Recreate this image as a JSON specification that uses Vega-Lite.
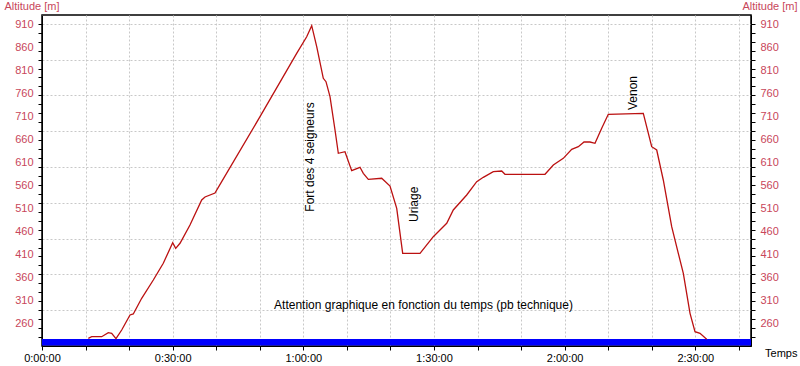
{
  "$schema": "https://vega.github.io/schema/vega-lite/v6.json",
  "width": 709,
  "height": 331,
  "autosize": {"type": "none"},
  "padding": {"left": 42, "top": 15, "right": 49, "bottom": 20},
  "background": "#ffffff",
  "config": {
    "font": "Liberation Sans",
    "view": {"stroke": "#000000", "strokeWidth": 1.5},
    "axis": {"domainColor": "#000000", "tickColor": "#000000", "titleFontWeight": "normal"}
  },
  "datasets": {
    "profile": [
      {"t": 10.63, "alt": 226.7}, {"t": 11.41, "alt": 230.2}, {"t": 13.71, "alt": 230.2},
      {"t": 15.22, "alt": 238.9}, {"t": 16.0, "alt": 237.6}, {"t": 16.99, "alt": 225.9},
      {"t": 18.3, "alt": 244.8}, {"t": 20.21, "alt": 277.4}, {"t": 20.96, "alt": 279.6},
      {"t": 22.89, "alt": 313.7}, {"t": 25.56, "alt": 353.5}, {"t": 27.85, "alt": 389.8},
      {"t": 30.01, "alt": 434.6}, {"t": 30.7, "alt": 422.4}, {"t": 31.69, "alt": 433.3},
      {"t": 33.98, "alt": 473.0}, {"t": 36.67, "alt": 527.4}, {"t": 37.43, "alt": 533.9},
      {"t": 39.72, "alt": 542.6}, {"t": 41.26, "alt": 567.2}, {"t": 50.06, "alt": 708.5},
      {"t": 58.48, "alt": 846.3}, {"t": 60.78, "alt": 882.4}, {"t": 61.93, "alt": 906.3},
      {"t": 63.08, "alt": 860.7}, {"t": 64.59, "alt": 792.0}, {"t": 65.21, "alt": 784.6},
      {"t": 66.13, "alt": 752.0}, {"t": 67.28, "alt": 679.6}, {"t": 68.04, "alt": 628.9},
      {"t": 69.57, "alt": 632.4}, {"t": 71.11, "alt": 591.1}, {"t": 73.02, "alt": 598.5},
      {"t": 73.78, "alt": 585.4}, {"t": 74.93, "alt": 572.4}, {"t": 78.0, "alt": 574.6},
      {"t": 79.91, "alt": 557.8}, {"t": 81.45, "alt": 509.3}, {"t": 82.82, "alt": 411.5},
      {"t": 86.8, "alt": 411.5}, {"t": 89.85, "alt": 447.6}, {"t": 92.93, "alt": 476.7},
      {"t": 94.44, "alt": 505.7}, {"t": 97.52, "alt": 538.3}, {"t": 99.82, "alt": 567.2},
      {"t": 101.33, "alt": 576.7}, {"t": 103.63, "alt": 588.9}, {"t": 105.56, "alt": 590.4},
      {"t": 106.31, "alt": 583.3}, {"t": 115.5, "alt": 583.3}, {"t": 117.41, "alt": 603.5},
      {"t": 119.7, "alt": 618.0}, {"t": 121.63, "alt": 637.6}, {"t": 123.15, "alt": 643.3},
      {"t": 124.46, "alt": 653.5}, {"t": 125.83, "alt": 653.5}, {"t": 126.98, "alt": 650.6},
      {"t": 128.52, "alt": 683.3}, {"t": 130.03, "alt": 713.7}, {"t": 138.07, "alt": 715.9},
      {"t": 140.0, "alt": 643.3}, {"t": 141.15, "alt": 636.1}, {"t": 142.66, "alt": 570.9},
      {"t": 144.59, "alt": 469.4}, {"t": 146.11, "alt": 411.5}, {"t": 147.26, "alt": 368.0},
      {"t": 148.8, "alt": 281.1}, {"t": 149.94, "alt": 241.1}, {"t": 151.09, "alt": 237.6},
      {"t": 152.63, "alt": 224.6}
    ],
    "band": [{"t0": 0, "t1": 162.8, "a0": 211, "a1": 225}],
    "places": [
      {"name": "Fort des 4 seigneurs", "t": 61.54, "alt": 502},
      {"name": "Uriage", "t": 85.42, "alt": 479.6},
      {"name": "Venon", "t": 135.77, "alt": 723}
    ],
    "note": [{"name": "Attention graphique en fonction du temps (pb technique)", "t": 87.6, "alt": 299.1}]
  },
  "resolve": {"axis": {"y": "independent"}},
  "layer": [
    {
      "data": {"name": "band"},
      "mark": {"type": "rect", "color": "#0000ff"},
      "encoding": {
        "x": {"field": "t0", "type": "quantitative", "scale": {"domain": [0, 162.8], "nice": false, "zero": false},
          "axis": {"values": [0,10,20,30,40,50,60,70,80,90,100,110,120,130,140,150,160], "grid": true, "gridDash": [2,2], "gridColor": "#c8c8c8",
            "tickSize": 4, "labelColor": "#000000", "labelFontSize": 11, "labelPadding": 2, "labelFlush": false,
            "labelExpr": "datum.value % 30 == 0 ? floor(datum.value/60) + ':' + (datum.value % 60 < 10 ? '0' : '') + (datum.value % 60) + ':00' : ''",
            "title": "Temps", "titleX": 755, "titleY": 7, "titleAlign": "right", "titleBaseline": "middle", "titleFontSize": 11, "titleColor": "#000000"}},
        "x2": {"field": "t1"},
        "y": {"field": "a0", "type": "quantitative", "scale": {"domain": [210, 929.6], "nice": false, "zero": false},
          "axis": {"orient": "left", "values": [287.83,365.66,443.49,521.32,599.15,676.98,754.81,832.64,910.47], "labels": false, "ticks": false, "domain": false,
            "grid": true, "gridDash": [2,2], "gridColor": "#c8c8c8", "title": null}},
        "y2": {"field": "a1"}
      }
    },
    {
      "data": {"name": "profile"},
      "mark": {"type": "line", "color": "#bb1111", "strokeWidth": 1.3},
      "encoding": {
        "x": {"field": "t", "type": "quantitative"},
        "y": {"field": "alt", "type": "quantitative",
          "axis": {"orient": "left", "values": [260,310,360,410,460,510,560,610,660,710,760,810,860,910], "grid": false, "ticks": false, "labelPadding": 9,
            "labelColor": "#c8465a", "labelFontSize": 11, "labelFlush": false, "domainColor": "#000000",
            "title": "Altitude [m]", "titleAngle": 0, "titleX": -38, "titleY": -9, "titleAlign": "left", "titleBaseline": "middle", "titleFontSize": 11, "titleColor": "#c8465a"}}
      }
    },
    {
      "data": {"name": "places"},
      "transform": [{"filter": "datum.name == 'Fort des 4 seigneurs'"}],
      "mark": {"type": "text", "angle": 270, "align": "left", "baseline": "middle", "fontSize": 12, "color": "#000000"},
      "encoding": {
        "x": {"field": "t", "type": "quantitative"},
        "y": {"field": "alt", "type": "quantitative",
          "axis": {"orient": "right", "values": [260,310,360,410,460,510,560,610,660,710,760,810,860,910], "grid": false, "ticks": false, "labelPadding": 9,
            "labelColor": "#c8465a", "labelFontSize": 11, "labelFlush": false,
            "title": "Altitude [m]", "titleAngle": 0, "titleX": 46, "titleY": -9, "titleAlign": "right", "titleBaseline": "middle", "titleFontSize": 11, "titleColor": "#c8465a"}},
        "text": {"field": "name"}
      }
    },
    {
      "data": {"name": "places"},
      "transform": [{"filter": "datum.name != 'Fort des 4 seigneurs'"}],
      "mark": {"type": "text", "angle": 270, "align": "left", "baseline": "middle", "fontSize": 12, "color": "#000000"},
      "encoding": {
        "x": {"field": "t", "type": "quantitative"},
        "y": {"field": "alt", "type": "quantitative",
          "axis": {"orient": "left", "values": [229.46,248.92,268.37,287.83,307.29,326.75,346.2,365.66,385.12,404.58,424.03,443.49,462.95,482.41,501.86,521.32,540.78,560.24,579.69,599.15,618.61,638.07,657.52,676.98,696.44,715.9,735.35,754.81,774.27,793.73,813.18,832.64,852.1,871.56,891.01,910.47],
            "labels": false, "domain": false, "grid": false, "tickSize": 4, "title": null}},
        "text": {"field": "name"}
      }
    },
    {
      "data": {"name": "note"},
      "mark": {"type": "text", "align": "center", "baseline": "middle", "fontSize": 12, "color": "#000000"},
      "encoding": {
        "x": {"field": "t", "type": "quantitative"},
        "y": {"field": "alt", "type": "quantitative",
          "axis": {"orient": "right", "values": [229.46,248.92,268.37,287.83,307.29,326.75,346.2,365.66,385.12,404.58,424.03,443.49,462.95,482.41,501.86,521.32,540.78,560.24,579.69,599.15,618.61,638.07,657.52,676.98,696.44,715.9,735.35,754.81,774.27,793.73,813.18,832.64,852.1,871.56,891.01,910.47],
            "labels": false, "domain": false, "grid": false, "tickSize": 4, "title": null}},
        "text": {"field": "name"}
      }
    }
  ]
}
